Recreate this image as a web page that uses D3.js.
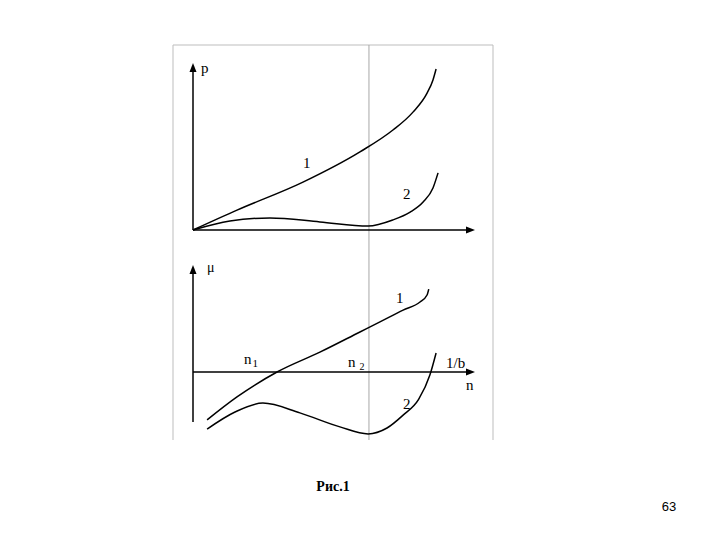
<!DOCTYPE html>
<html>
<head>
<meta charset="utf-8">
<script src="https://cdn.jsdelivr.net/npm/d3@7"></script>
<style>
  body { margin: 0; background: #fff; }
  text { font-family: "Liberation Serif", "DejaVu Serif", serif; fill: #000; }
</style>
</head>
<body>
<div id="chart"></div>
<script>
// curve values (n in axis units, p / mu in axis units)
var nP1 = [0, 1.56, 3.90, 5.92, 7.09, 7.80, 8.30, 8.51, 8.62];
var p1  = [0, 0.71, 1.71, 2.79, 3.57, 4.21, 4.89, 5.36, 5.75];
var nP2 = [0, 1.31, 2.73, 4.50, 6.21, 7.09, 7.70, 8.16, 8.51, 8.69];
var p2  = [0, 0.32, 0.43, 0.29, 0.14, 0.36, 0.64, 1.00, 1.50, 2.04];

var nM1 = [0.50, 1.56, 2.98, 4.50, 5.92, 6.63, 7.45, 8.05, 8.30, 8.36];
var mu1 = [-1.71, -0.89, 0, 0.71, 1.43, 1.79, 2.21, 2.50, 2.75, 2.96];
var nM2 = [0.50, 1.49, 2.48, 3.79, 5.21, 6.21, 6.88, 7.45, 8.00, 8.40, 8.62];
var mu2 = [-2.04, -1.43, -1.11, -1.46, -1.96, -2.21, -2.00, -1.54, -0.98, -0.11, 0.68];

var n2 = 6.24;   // vertical guide line

var W = 720, H = 540;
var svg = d3.select("#chart").append("svg")
    .attr("width", W).attr("height", H);

var x = d3.scaleLinear().domain([0, 10]).range([193, 475]);
var yTop = d3.scaleLinear().domain([0, 6]).range([230, 62]);
var yBot = d3.scaleLinear().domain([-2, 4]).range([428, 260]);

function pts(xs, ys) { return xs.map(function(v, i) { return [v, ys[i]]; }); }

// frame
svg.append("path")
    .attr("d", "M173,440 V45 H493 V440")
    .attr("fill", "none").attr("stroke", "#bdbdbd").attr("stroke-width", 1);
svg.append("line")
    .attr("x1", x(n2)).attr("x2", x(n2)).attr("y1", 45).attr("y2", 440)
    .attr("stroke", "#a8a8a8").attr("stroke-width", 1);

function arrowUp(px, py) {
  svg.append("path").attr("d", "M" + px + "," + py + " l-3.5,9 h7 z").attr("fill", "#000");
}
function arrowRight(px, py) {
  svg.append("path").attr("d", "M" + px + "," + py + " l-9,-3.5 v7 z").attr("fill", "#000");
}

function axes(ys, yMax, yMin) {
  svg.append("line").attr("x1", x(0)).attr("x2", x(0))
      .attr("y1", ys(yMax) + 4).attr("y2", ys(yMin))
      .attr("stroke", "#000").attr("stroke-width", 1.5);
  arrowUp(x(0), ys(yMax));
  svg.append("line").attr("x1", x(0)).attr("x2", x(10) - 4)
      .attr("y1", ys(0)).attr("y2", ys(0))
      .attr("stroke", "#000").attr("stroke-width", 1.5);
  arrowRight(x(10), ys(0));
}

axes(yTop, 5.96, 0);
axes(yBot, 3.82, -1.79);

function curve(ys, data) {
  var line = d3.line()
      .x(function(d) { return x(d[0]); })
      .y(function(d) { return ys(d[1]); })
      .curve(d3.curveMonotoneX);
  svg.append("path").attr("d", line(data))
      .attr("fill", "none").attr("stroke", "#000").attr("stroke-width", 1.5);
}

curve(yTop, pts(nP1, p1));
curve(yTop, pts(nP2, p2));
curve(yBot, pts(nM1, mu1));
curve(yBot, pts(nM2, mu2));

function label(px, py, t, size, extra) {
  var el = svg.append("text").attr("x", px).attr("y", py)
      .attr("font-size", size).text(t);
  if (extra) extra(el);
  return el;
}

// top panel labels
label(201, 73, "p", 15);
label(303, 168, "1", 15);
label(403, 199, "2", 15);

// bottom panel labels
label(207, 272, "\u03bc", 14);
label(396, 303, "1", 15);
label(403, 409, "2", 15);
label(466, 390, "n", 15);
label(446, 368, "1/b", 15);
var t1 = label(244, 364, "n", 15);
t1.append("tspan").attr("dx", 1).attr("dy", 3).attr("font-size", 11).text("1");
var t2 = label(348, 367, "n", 15);
t2.append("tspan").attr("dx", 4).attr("dy", 3).attr("font-size", 10).text("2");

// caption and page number
label(333, 491, "\u0420\u0438\u0441.1", 14, function(el) {
  el.attr("text-anchor", "middle").attr("font-weight", "bold");
});
svg.append("text").attr("x", 669).attr("y", 511)
    .attr("text-anchor", "middle")
    .style("font-family", "'Liberation Sans', Arial, sans-serif")
    .attr("font-size", 13).text("63");
</script>
</body>
</html>
